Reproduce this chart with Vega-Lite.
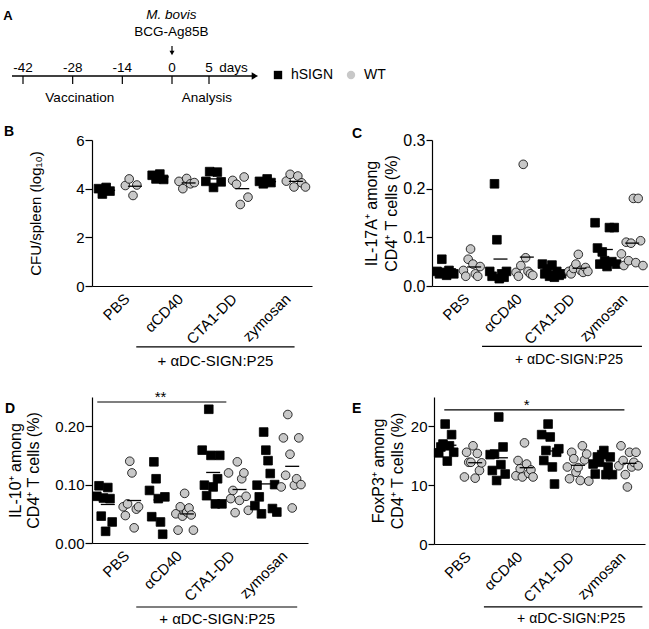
{
 "$schema": "https://vega.github.io/schema/vega-lite/v6.json",
 "padding": {"left": 3, "top": 7, "right": 0, "bottom": 0},
 "config": {
  "font": "Liberation Sans",
  "view": {"stroke": null},
  "axis": {"grid": false, "domainColor": "black", "domainWidth": 1.2, "tickColor": "black", "tickWidth": 1.2, "labelColor": "black", "titleColor": "black", "titleFontWeight": "normal", "labelFont": "Liberation Sans", "titleFont": "Liberation Sans"},
  "legend": {"symbolStrokeColor": "black", "symbolStrokeWidth": 1},
  "text": {"color": "black", "font": "Liberation Sans"}
 },
 "datasets": {
  "pts": [
   {"p":"B","c":"PBS","g":"hSIGN","v":4.0},{"p":"B","c":"PBS","g":"hSIGN","v":3.78},{"p":"B","c":"PBS","g":"hSIGN","v":4.05},{"p":"B","c":"PBS","g":"hSIGN","v":3.9},
   {"p":"B","c":"PBS","g":"WT","v":4.13},{"p":"B","c":"PBS","g":"WT","v":4.4},{"p":"B","c":"PBS","g":"WT","v":3.72},{"p":"B","c":"PBS","g":"WT","v":4.15},
   {"p":"B","c":"αCD40","g":"hSIGN","v":4.55},{"p":"B","c":"αCD40","g":"hSIGN","v":4.4},{"p":"B","c":"αCD40","g":"hSIGN","v":4.6},{"p":"B","c":"αCD40","g":"hSIGN","v":4.38},
   {"p":"B","c":"αCD40","g":"WT","v":4.3},{"p":"B","c":"αCD40","g":"WT","v":4.0},{"p":"B","c":"αCD40","g":"WT","v":4.42},{"p":"B","c":"αCD40","g":"WT","v":4.2},{"p":"B","c":"αCD40","g":"WT","v":4.25},
   {"p":"B","c":"CTA1-DD","g":"hSIGN","v":4.3},{"p":"B","c":"CTA1-DD","g":"hSIGN","v":4.7},{"p":"B","c":"CTA1-DD","g":"hSIGN","v":4.05},{"p":"B","c":"CTA1-DD","g":"hSIGN","v":4.68},{"p":"B","c":"CTA1-DD","g":"hSIGN","v":4.28},
   {"p":"B","c":"CTA1-DD","g":"WT","v":4.34},{"p":"B","c":"CTA1-DD","g":"WT","v":4.18},{"p":"B","c":"CTA1-DD","g":"WT","v":3.35},{"p":"B","c":"CTA1-DD","g":"WT","v":4.48},{"p":"B","c":"CTA1-DD","g":"WT","v":3.65},
   {"p":"B","c":"zymosan","g":"hSIGN","v":4.3},{"p":"B","c":"zymosan","g":"hSIGN","v":4.2},{"p":"B","c":"zymosan","g":"hSIGN","v":4.4},{"p":"B","c":"zymosan","g":"hSIGN","v":4.25},
   {"p":"B","c":"zymosan","g":"WT","v":4.31},{"p":"B","c":"zymosan","g":"WT","v":4.59},{"p":"B","c":"zymosan","g":"WT","v":4.07},{"p":"B","c":"zymosan","g":"WT","v":4.52},{"p":"B","c":"zymosan","g":"WT","v":4.24},{"p":"B","c":"zymosan","g":"WT","v":4.07},

   {"p":"C","c":"PBS","g":"hSIGN","v":0.03},{"p":"C","c":"PBS","g":"hSIGN","v":0.025},{"p":"C","c":"PBS","g":"hSIGN","v":0.055},{"p":"C","c":"PBS","g":"hSIGN","v":0.028},{"p":"C","c":"PBS","g":"hSIGN","v":0.022},{"p":"C","c":"PBS","g":"hSIGN","v":0.032},{"p":"C","c":"PBS","g":"hSIGN","v":0.027},{"p":"C","c":"PBS","g":"hSIGN","v":0.025},
   {"p":"C","c":"PBS","g":"WT","v":0.032},{"p":"C","c":"PBS","g":"WT","v":0.02},{"p":"C","c":"PBS","g":"WT","v":0.055},{"p":"C","c":"PBS","g":"WT","v":0.076},{"p":"C","c":"PBS","g":"WT","v":0.045},{"p":"C","c":"PBS","g":"WT","v":0.025},{"p":"C","c":"PBS","g":"WT","v":0.02},{"p":"C","c":"PBS","g":"WT","v":0.04},
   {"p":"C","c":"αCD40","g":"hSIGN","v":0.03},{"p":"C","c":"αCD40","g":"hSIGN","v":0.02},{"p":"C","c":"αCD40","g":"hSIGN","v":0.21},{"p":"C","c":"αCD40","g":"hSIGN","v":0.095},{"p":"C","c":"αCD40","g":"hSIGN","v":0.015},{"p":"C","c":"αCD40","g":"hSIGN","v":0.025},{"p":"C","c":"αCD40","g":"hSIGN","v":0.018},{"p":"C","c":"αCD40","g":"hSIGN","v":0.03},
   {"p":"C","c":"αCD40","g":"WT","v":0.028},{"p":"C","c":"αCD40","g":"WT","v":0.02},{"p":"C","c":"αCD40","g":"WT","v":0.042},{"p":"C","c":"αCD40","g":"WT","v":0.25},{"p":"C","c":"αCD40","g":"WT","v":0.058},{"p":"C","c":"αCD40","g":"WT","v":0.03},{"p":"C","c":"αCD40","g":"WT","v":0.025},{"p":"C","c":"αCD40","g":"WT","v":0.022},
   {"p":"C","c":"CTA1-DD","g":"hSIGN","v":0.045},{"p":"C","c":"CTA1-DD","g":"hSIGN","v":0.025},{"p":"C","c":"CTA1-DD","g":"hSIGN","v":0.035},{"p":"C","c":"CTA1-DD","g":"hSIGN","v":0.02},{"p":"C","c":"CTA1-DD","g":"hSIGN","v":0.043},{"p":"C","c":"CTA1-DD","g":"hSIGN","v":0.018},{"p":"C","c":"CTA1-DD","g":"hSIGN","v":0.03},{"p":"C","c":"CTA1-DD","g":"hSIGN","v":0.022},{"p":"C","c":"CTA1-DD","g":"hSIGN","v":0.025},
   {"p":"C","c":"CTA1-DD","g":"WT","v":0.03},{"p":"C","c":"CTA1-DD","g":"WT","v":0.025},{"p":"C","c":"CTA1-DD","g":"WT","v":0.036},{"p":"C","c":"CTA1-DD","g":"WT","v":0.045},{"p":"C","c":"CTA1-DD","g":"WT","v":0.065},{"p":"C","c":"CTA1-DD","g":"WT","v":0.032},{"p":"C","c":"CTA1-DD","g":"WT","v":0.028},{"p":"C","c":"CTA1-DD","g":"WT","v":0.038},{"p":"C","c":"CTA1-DD","g":"WT","v":0.03},
   {"p":"C","c":"zymosan","g":"hSIGN","v":0.13},{"p":"C","c":"zymosan","g":"hSIGN","v":0.078},{"p":"C","c":"zymosan","g":"hSIGN","v":0.045},{"p":"C","c":"zymosan","g":"hSIGN","v":0.07},{"p":"C","c":"zymosan","g":"hSIGN","v":0.052},{"p":"C","c":"zymosan","g":"hSIGN","v":0.04},{"p":"C","c":"zymosan","g":"hSIGN","v":0.12},{"p":"C","c":"zymosan","g":"hSIGN","v":0.05},{"p":"C","c":"zymosan","g":"hSIGN","v":0.12},{"p":"C","c":"zymosan","g":"hSIGN","v":0.045},
   {"p":"C","c":"zymosan","g":"WT","v":0.066},{"p":"C","c":"zymosan","g":"WT","v":0.042},{"p":"C","c":"zymosan","g":"WT","v":0.09},{"p":"C","c":"zymosan","g":"WT","v":0.052},{"p":"C","c":"zymosan","g":"WT","v":0.088},{"p":"C","c":"zymosan","g":"WT","v":0.18},{"p":"C","c":"zymosan","g":"WT","v":0.048},{"p":"C","c":"zymosan","g":"WT","v":0.18},{"p":"C","c":"zymosan","g":"WT","v":0.093},{"p":"C","c":"zymosan","g":"WT","v":0.042},

   {"p":"D","c":"PBS","g":"hSIGN","v":0.08},{"p":"D","c":"PBS","g":"hSIGN","v":0.098},{"p":"D","c":"PBS","g":"hSIGN","v":0.046},{"p":"D","c":"PBS","g":"hSIGN","v":0.077},{"p":"D","c":"PBS","g":"hSIGN","v":0.02},{"p":"D","c":"PBS","g":"hSIGN","v":0.095},{"p":"D","c":"PBS","g":"hSIGN","v":0.076},{"p":"D","c":"PBS","g":"hSIGN","v":0.036},
   {"p":"D","c":"PBS","g":"WT","v":0.062},{"p":"D","c":"PBS","g":"WT","v":0.047},{"p":"D","c":"PBS","g":"WT","v":0.067},{"p":"D","c":"PBS","g":"WT","v":0.14},{"p":"D","c":"PBS","g":"WT","v":0.12},{"p":"D","c":"PBS","g":"WT","v":0.026},{"p":"D","c":"PBS","g":"WT","v":0.058},{"p":"D","c":"PBS","g":"WT","v":0.062},
   {"p":"D","c":"αCD40","g":"hSIGN","v":0.09},{"p":"D","c":"αCD40","g":"hSIGN","v":0.045},{"p":"D","c":"αCD40","g":"hSIGN","v":0.139},{"p":"D","c":"αCD40","g":"hSIGN","v":0.11},{"p":"D","c":"αCD40","g":"hSIGN","v":0.076},{"p":"D","c":"αCD40","g":"hSIGN","v":0.036},{"p":"D","c":"αCD40","g":"hSIGN","v":0.015},{"p":"D","c":"αCD40","g":"hSIGN","v":0.079},
   {"p":"D","c":"αCD40","g":"WT","v":0.05},{"p":"D","c":"αCD40","g":"WT","v":0.022},{"p":"D","c":"αCD40","g":"WT","v":0.062},{"p":"D","c":"αCD40","g":"WT","v":0.046},{"p":"D","c":"αCD40","g":"WT","v":0.085},{"p":"D","c":"αCD40","g":"WT","v":0.053},{"p":"D","c":"αCD40","g":"WT","v":0.06},{"p":"D","c":"αCD40","g":"WT","v":0.048},{"p":"D","c":"αCD40","g":"WT","v":0.022},
   {"p":"D","c":"CTA1-DD","g":"hSIGN","v":0.159},{"p":"D","c":"CTA1-DD","g":"hSIGN","v":0.099},{"p":"D","c":"CTA1-DD","g":"hSIGN","v":0.081},{"p":"D","c":"CTA1-DD","g":"hSIGN","v":0.229},{"p":"D","c":"CTA1-DD","g":"hSIGN","v":0.15},{"p":"D","c":"CTA1-DD","g":"hSIGN","v":0.096},{"p":"D","c":"CTA1-DD","g":"hSIGN","v":0.067},{"p":"D","c":"CTA1-DD","g":"hSIGN","v":0.11},{"p":"D","c":"CTA1-DD","g":"hSIGN","v":0.15},{"p":"D","c":"CTA1-DD","g":"hSIGN","v":0.067},
   {"p":"D","c":"CTA1-DD","g":"WT","v":0.12},{"p":"D","c":"CTA1-DD","g":"WT","v":0.076},{"p":"D","c":"CTA1-DD","g":"WT","v":0.09},{"p":"D","c":"CTA1-DD","g":"WT","v":0.052},{"p":"D","c":"CTA1-DD","g":"WT","v":0.139},{"p":"D","c":"CTA1-DD","g":"WT","v":0.073},{"p":"D","c":"CTA1-DD","g":"WT","v":0.11},{"p":"D","c":"CTA1-DD","g":"WT","v":0.12},{"p":"D","c":"CTA1-DD","g":"WT","v":0.08},{"p":"D","c":"CTA1-DD","g":"WT","v":0.056},
   {"p":"D","c":"zymosan","g":"hSIGN","v":0.064},{"p":"D","c":"zymosan","g":"hSIGN","v":0.099},{"p":"D","c":"zymosan","g":"hSIGN","v":0.079},{"p":"D","c":"zymosan","g":"hSIGN","v":0.05},{"p":"D","c":"zymosan","g":"hSIGN","v":0.19},{"p":"D","c":"zymosan","g":"hSIGN","v":0.159},{"p":"D","c":"zymosan","g":"hSIGN","v":0.141},{"p":"D","c":"zymosan","g":"hSIGN","v":0.119},{"p":"D","c":"zymosan","g":"hSIGN","v":0.059},{"p":"D","c":"zymosan","g":"hSIGN","v":0.1},{"p":"D","c":"zymosan","g":"hSIGN","v":0.053},
   {"p":"D","c":"zymosan","g":"WT","v":0.096},{"p":"D","c":"zymosan","g":"WT","v":0.18},{"p":"D","c":"zymosan","g":"WT","v":0.116},{"p":"D","c":"zymosan","g":"WT","v":0.22},{"p":"D","c":"zymosan","g":"WT","v":0.152},{"p":"D","c":"zymosan","g":"WT","v":0.06},{"p":"D","c":"zymosan","g":"WT","v":0.099},{"p":"D","c":"zymosan","g":"WT","v":0.11},{"p":"D","c":"zymosan","g":"WT","v":0.18},{"p":"D","c":"zymosan","g":"WT","v":0.1},

   {"p":"E","c":"PBS","g":"hSIGN","v":15.5},{"p":"E","c":"PBS","g":"hSIGN","v":16.5},{"p":"E","c":"PBS","g":"hSIGN","v":17.0},{"p":"E","c":"PBS","g":"hSIGN","v":20.4},{"p":"E","c":"PBS","g":"hSIGN","v":14.1},{"p":"E","c":"PBS","g":"hSIGN","v":16.7},{"p":"E","c":"PBS","g":"hSIGN","v":18.6},{"p":"E","c":"PBS","g":"hSIGN","v":15.6},
   {"p":"E","c":"PBS","g":"WT","v":11.4},{"p":"E","c":"PBS","g":"WT","v":15.6},{"p":"E","c":"PBS","g":"WT","v":13.9},{"p":"E","c":"PBS","g":"WT","v":13.9},{"p":"E","c":"PBS","g":"WT","v":16.7},{"p":"E","c":"PBS","g":"WT","v":11.2},{"p":"E","c":"PBS","g":"WT","v":15.4},{"p":"E","c":"PBS","g":"WT","v":12.5},{"p":"E","c":"PBS","g":"WT","v":13.8},
   {"p":"E","c":"αCD40","g":"hSIGN","v":15.2},{"p":"E","c":"αCD40","g":"hSIGN","v":12.5},{"p":"E","c":"αCD40","g":"hSIGN","v":15.3},{"p":"E","c":"αCD40","g":"hSIGN","v":10.8},{"p":"E","c":"αCD40","g":"hSIGN","v":21.6},{"p":"E","c":"αCD40","g":"hSIGN","v":13.5},{"p":"E","c":"αCD40","g":"hSIGN","v":16.5},{"p":"E","c":"αCD40","g":"hSIGN","v":11.9},
   {"p":"E","c":"αCD40","g":"WT","v":11.6},{"p":"E","c":"αCD40","g":"WT","v":14.2},{"p":"E","c":"αCD40","g":"WT","v":12.8},{"p":"E","c":"αCD40","g":"WT","v":11.4},{"p":"E","c":"αCD40","g":"WT","v":17.2},{"p":"E","c":"αCD40","g":"WT","v":13.6},{"p":"E","c":"αCD40","g":"WT","v":12.0},{"p":"E","c":"αCD40","g":"WT","v":12.6},{"p":"E","c":"αCD40","g":"WT","v":11.4},
   {"p":"E","c":"CTA1-DD","g":"hSIGN","v":18.6},{"p":"E","c":"CTA1-DD","g":"hSIGN","v":14.2},{"p":"E","c":"CTA1-DD","g":"hSIGN","v":15.9},{"p":"E","c":"CTA1-DD","g":"hSIGN","v":20.4},{"p":"E","c":"CTA1-DD","g":"hSIGN","v":18.2},{"p":"E","c":"CTA1-DD","g":"hSIGN","v":13.1},{"p":"E","c":"CTA1-DD","g":"hSIGN","v":10.2},{"p":"E","c":"CTA1-DD","g":"hSIGN","v":15.6},{"p":"E","c":"CTA1-DD","g":"hSIGN","v":16.2},
   {"p":"E","c":"CTA1-DD","g":"WT","v":13.1},{"p":"E","c":"CTA1-DD","g":"WT","v":11.1},{"p":"E","c":"CTA1-DD","g":"WT","v":15.6},{"p":"E","c":"CTA1-DD","g":"WT","v":14.5},{"p":"E","c":"CTA1-DD","g":"WT","v":12.2},{"p":"E","c":"CTA1-DD","g":"WT","v":13.0},{"p":"E","c":"CTA1-DD","g":"WT","v":10.8},{"p":"E","c":"CTA1-DD","g":"WT","v":16.7},{"p":"E","c":"CTA1-DD","g":"WT","v":14.3},{"p":"E","c":"CTA1-DD","g":"WT","v":15.3},{"p":"E","c":"CTA1-DD","g":"WT","v":10.7},
   {"p":"E","c":"zymosan","g":"hSIGN","v":13.6},{"p":"E","c":"zymosan","g":"hSIGN","v":11.9},{"p":"E","c":"zymosan","g":"hSIGN","v":14.8},{"p":"E","c":"zymosan","g":"hSIGN","v":13.9},{"p":"E","c":"zymosan","g":"hSIGN","v":15.2},{"p":"E","c":"zymosan","g":"hSIGN","v":15.9},{"p":"E","c":"zymosan","g":"hSIGN","v":11.8},{"p":"E","c":"zymosan","g":"hSIGN","v":13.1},{"p":"E","c":"zymosan","g":"hSIGN","v":14.8},{"p":"E","c":"zymosan","g":"hSIGN","v":11.8},
   {"p":"E","c":"zymosan","g":"WT","v":13.3},{"p":"E","c":"zymosan","g":"WT","v":16.7},{"p":"E","c":"zymosan","g":"WT","v":14.2},{"p":"E","c":"zymosan","g":"WT","v":11.8},{"p":"E","c":"zymosan","g":"WT","v":9.7},{"p":"E","c":"zymosan","g":"WT","v":15.6},{"p":"E","c":"zymosan","g":"WT","v":13.1},{"p":"E","c":"zymosan","g":"WT","v":13.9},{"p":"E","c":"zymosan","g":"WT","v":15.6},{"p":"E","c":"zymosan","g":"WT","v":13.3}
  ]
 },
 "spacing": 20,
 "resolve": {"scale": {"xOffset": "independent"}},
 "vconcat": [
  {
   "width": 300, "height": 94,
   "data": {"values": [{"day": -42, "lab": "-42"}, {"day": -28, "lab": "-28"}, {"day": -14, "lab": "-14"}, {"day": 0, "lab": "0"}, {"day": 5, "lab": "5"}]},
   "layer": [
    {"data": {"values": [{}]}, "mark": {"type": "rule", "color": "black", "strokeWidth": 1.3},
     "encoding": {"x": {"datum": -45.1, "type": "quantitative", "scale": {"type": "linear", "domain": [-42, 0, 5], "range": [-69, 80, 117], "zero": false, "nice": false}, "axis": null},
                  "x2": {"datum": 11},
                  "y": {"datum": 33, "type": "quantitative", "scale": {"domain": [6, 100], "nice": false, "zero": false}, "axis": null}}},
    {"data": {"values": [{"t": "A"}]}, "mark": {"type": "text", "fontSize": 13, "fontWeight": "bold", "align": "left", "baseline": "middle"},
     "encoding": {"x": {"datum": -47.6, "type": "quantitative"}, "y": {"datum": 93, "type": "quantitative"}, "text": {"field": "t"}}},
    {"data": {"values": [{}]}, "mark": {"type": "point", "shape": "triangle-right", "filled": true, "color": "black", "size": 55, "opacity": 1},
     "encoding": {"x": {"datum": 11.2, "type": "quantitative"}, "y": {"datum": 33, "type": "quantitative"}}},
    {"mark": {"type": "rule", "color": "black", "strokeWidth": 1.2},
     "encoding": {"x": {"field": "day", "type": "quantitative"}, "y": {"datum": 33, "type": "quantitative"}, "y2": {"datum": 25}}},
    {"mark": {"type": "text", "fontSize": 13.5, "baseline": "middle"},
     "encoding": {"x": {"field": "day", "type": "quantitative"}, "y": {"datum": 41, "type": "quantitative"}, "text": {"field": "lab"}}},
    {"data": {"values": [{}]}, "mark": {"type": "text", "fontSize": 13.5, "baseline": "middle"},
     "encoding": {"x": {"datum": 8.3, "type": "quantitative"}, "y": {"datum": 41, "type": "quantitative"}, "text": {"value": "days"}}},
    {"data": {"values": [{}]}, "mark": {"type": "text", "fontSize": 13.5, "baseline": "middle"},
     "encoding": {"x": {"datum": -26, "type": "quantitative"}, "y": {"datum": 11, "type": "quantitative"}, "text": {"value": "Vaccination"}}},
    {"data": {"values": [{}]}, "mark": {"type": "text", "fontSize": 13.5, "baseline": "middle"},
     "encoding": {"x": {"datum": 4.7, "type": "quantitative"}, "y": {"datum": 11, "type": "quantitative"}, "text": {"value": "Analysis"}}},
    {"data": {"values": [{}]}, "mark": {"type": "text", "fontSize": 13.5, "fontStyle": "italic", "baseline": "middle"},
     "encoding": {"x": {"datum": -0.2, "type": "quantitative"}, "y": {"datum": 94, "type": "quantitative"}, "text": {"value": "M. bovis"}}},
    {"data": {"values": [{}]}, "mark": {"type": "text", "fontSize": 13.5, "baseline": "middle"},
     "encoding": {"x": {"datum": -0.2, "type": "quantitative"}, "y": {"datum": 77, "type": "quantitative"}, "text": {"value": "BCG-Ag85B"}}},
    {"data": {"values": [{}]}, "mark": {"type": "rule", "color": "black", "strokeWidth": 1.2},
     "encoding": {"x": {"datum": 0, "type": "quantitative"}, "y": {"datum": 63, "type": "quantitative"}, "y2": {"datum": 56}}},
    {"data": {"values": [{}]}, "mark": {"type": "point", "shape": "triangle-down", "filled": true, "color": "black", "size": 25, "opacity": 1},
     "encoding": {"x": {"datum": 0, "type": "quantitative"}, "y": {"datum": 56, "type": "quantitative"}}}
   ]
  },
  {
   "spacing": 39,
   "resolve": {"scale": {"xOffset": "independent"}},
   "hconcat": [
    {
     "width": 220, "height": 146,
     "layer": [
      {"data": {"name": "pts"},
       "transform": [{"filter": "datum.p === 'B'"}, {"calculate": "datum.c + '|' + datum.g", "as": "grp"}, {"window": [{"op": "row_number", "as": "m"}], "groupby": ["c", "g"]}],
       "mark": {"type": "point", "filled": true, "size": 75, "stroke": "black", "strokeWidth": 0.8, "opacity": 1},
       "encoding": {
        "x": {"field": "grp", "type": "nominal", "scale": {"domain": ["PBS|hSIGN","PBS|WT","αCD40|hSIGN","αCD40|WT","CTA1-DD|hSIGN","CTA1-DD|WT","zymosan|hSIGN","zymosan|WT"], "paddingInner": 0, "paddingOuter": 0.1},
              "axis": {"title": null, "values": ["PBS|hSIGN","αCD40|hSIGN","CTA1-DD|hSIGN","zymosan|hSIGN"], "labelExpr": "split(datum.value, '|')[0]", "labelAngle": -45, "labelAlign": "right", "labelBaseline": "top", "labelOffset": 14, "ticks": false, "labelFontSize": 15, "labelPadding": 5}},
        "xOffset": {"field": "m", "type": "ordinal", "scale": {"paddingOuter": 2.5}},
        "y": {"field": "v", "type": "quantitative", "scale": {"domain": [0, 6], "nice": false}, "axis": {"values": [0, 2, 4, 6], "title": "CFU/spleen (log₁₀)", "titleFontSize": 15, "labelFontSize": 15, "tickSize": 7, "labelPadding": 1, "titlePadding": 32}},
        "fill": {"field": "g", "type": "nominal", "scale": {"domain": ["hSIGN", "WT"], "range": ["black", "#c8c8c8"]}, "legend": {"title": null, "orient": "none", "legendX": 179, "legendY": 59, "direction": "horizontal", "labelFontSize": 14, "labelColor": "black", "symbolSize": 70, "symbolStrokeColor": "black", "symbolStrokeWidth": 1, "labelOffset": 6, "columnPadding": 10, "padding": 0, "encode": {"symbols": {"update": {"stroke": {"value": "black"}, "strokeWidth": {"value": 1}}}}}},
        "shape": {"field": "g", "type": "nominal", "scale": {"domain": ["hSIGN", "WT"], "range": ["square", "circle"]}, "legend": {"title": null, "orient": "none", "legendX": 179, "legendY": 59, "direction": "horizontal", "labelFontSize": 14, "labelColor": "black", "symbolSize": 70, "symbolStrokeColor": "black", "symbolStrokeWidth": 1, "labelOffset": 6, "columnPadding": 10, "padding": 0, "encode": {"symbols": {"update": {"stroke": {"value": "black"}, "strokeWidth": {"value": 1}}}}}}
       }},
      {"data": {"name": "pts"},
       "transform": [{"filter": "datum.p === 'B'"}, {"calculate": "datum.c + '|' + datum.g", "as": "grp"}],
       "mark": {"type": "tick", "color": "black", "thickness": 1.3, "size": 14},
       "encoding": {"x": {"field": "grp", "type": "nominal"}, "y": {"field": "v", "aggregate": "mean", "type": "quantitative"}}},
      {"data": {"values": [{"t": "B"}]},
       "mark": {"type": "text", "fontSize": 14, "fontWeight": "bold", "align": "left", "baseline": "middle"},
       "encoding": {"x": {"datum": "PBS|hSIGN", "type": "nominal", "bandPosition": -3.38}, "y": {"datum": 6.31, "type": "quantitative"}, "text": {"field": "t"}}},
      {"data": {"values": [{"t": "+ αDC-SIGN:P25"}]},
       "mark": {"type": "rule", "color": "black", "strokeWidth": 1.2},
       "encoding": {"x": {"datum": "PBS|WT", "type": "nominal", "bandPosition": 0.55}, "x2": {"datum": "zymosan|WT", "bandPosition": 0.45}, "y": {"datum": -2.5, "type": "quantitative"}}},
      {"data": {"values": [{"t": "+ αDC-SIGN:P25"}]},
       "mark": {"type": "text", "fontSize": 15, "baseline": "middle"},
       "encoding": {"x": {"datum": "CTA1-DD|hSIGN", "type": "nominal", "bandPosition": 0.5}, "y": {"datum": -3.1, "type": "quantitative"}, "text": {"field": "t"}}}
     ]
    },
    {
     "width": 216, "height": 146,
     "layer": [
      {"data": {"name": "pts"},
       "transform": [{"filter": "datum.p === 'C'"}, {"calculate": "datum.c + '|' + datum.g", "as": "grp"}, {"window": [{"op": "row_number", "as": "m"}], "groupby": ["c", "g"]}],
       "mark": {"type": "point", "filled": true, "size": 75, "stroke": "black", "strokeWidth": 0.8, "opacity": 1},
       "encoding": {
        "x": {"field": "grp", "type": "nominal", "scale": {"domain": ["PBS|hSIGN","PBS|WT","αCD40|hSIGN","αCD40|WT","CTA1-DD|hSIGN","CTA1-DD|WT","zymosan|hSIGN","zymosan|WT"], "paddingInner": 0, "paddingOuter": 0.1},
              "axis": {"title": null, "values": ["PBS|hSIGN","αCD40|hSIGN","CTA1-DD|hSIGN","zymosan|hSIGN"], "labelExpr": "split(datum.value, '|')[0]", "labelAngle": -45, "labelAlign": "right", "labelBaseline": "top", "labelOffset": 14, "ticks": false, "labelFontSize": 15, "labelPadding": 5}},
        "xOffset": {"field": "m", "type": "ordinal", "scale": {"paddingOuter": 3}},
        "y": {"field": "v", "type": "quantitative", "scale": {"domain": [0, 0.3], "nice": false}, "axis": {"values": [0, 0.1, 0.2, 0.3], "format": ".1f", "title": ["IL-17A⁺ among", "CD4⁺ T cells (%)"], "titleFontSize": 16, "titleLineHeight": 20, "labelFontSize": 16, "tickSize": 6, "labelPadding": 1, "titlePadding": 3}},
        "fill": {"field": "g", "type": "nominal"},
        "shape": {"field": "g", "type": "nominal"}
       }},
      {"data": {"name": "pts"},
       "transform": [{"filter": "datum.p === 'C'"}, {"calculate": "datum.c + '|' + datum.g", "as": "grp"}],
       "mark": {"type": "tick", "color": "black", "thickness": 1.3, "size": 14},
       "encoding": {"x": {"field": "grp", "type": "nominal"}, "y": {"field": "v", "aggregate": "mean", "type": "quantitative"}}},
      {"data": {"values": [{"t": "C"}]},
       "mark": {"type": "text", "fontSize": 14, "fontWeight": "bold", "align": "left", "baseline": "middle"},
       "encoding": {"x": {"datum": "PBS|hSIGN", "type": "nominal", "bandPosition": -3.14}, "y": {"datum": 0.3133, "type": "quantitative"}, "text": {"field": "t"}}},
      {"data": {"values": [{"t": "+ αDC-SIGN:P25"}]},
       "mark": {"type": "rule", "color": "black", "strokeWidth": 1.2},
       "encoding": {"x": {"datum": "PBS|WT", "type": "nominal", "bandPosition": 0.8}, "x2": {"datum": "zymosan|WT", "bandPosition": 0.87}, "y": {"datum": -0.124, "type": "quantitative"}}},
      {"data": {"values": [{"t": "+ αDC-SIGN:P25"}]},
       "mark": {"type": "text", "fontSize": 14, "baseline": "middle"},
       "encoding": {"x": {"datum": "CTA1-DD|WT", "type": "nominal", "bandPosition": 0.1}, "y": {"datum": -0.153, "type": "quantitative"}, "text": {"field": "t"}}}
     ]
    }
   ]
  },
  {
   "spacing": 43,
   "resolve": {"scale": {"xOffset": "independent"}},
   "hconcat": [
    {
     "width": 216, "height": 146,
     "layer": [
      {"data": {"name": "pts"},
       "transform": [{"filter": "datum.p === 'D'"}, {"calculate": "datum.c + '|' + datum.g", "as": "grp"}, {"window": [{"op": "row_number", "as": "m"}], "groupby": ["c", "g"]}],
       "mark": {"type": "point", "filled": true, "size": 75, "stroke": "black", "strokeWidth": 0.8, "opacity": 1},
       "encoding": {
        "x": {"field": "grp", "type": "nominal", "scale": {"domain": ["PBS|hSIGN","PBS|WT","αCD40|hSIGN","αCD40|WT","CTA1-DD|hSIGN","CTA1-DD|WT","zymosan|hSIGN","zymosan|WT"], "paddingInner": 0, "paddingOuter": 0.1},
              "axis": {"title": null, "values": ["PBS|hSIGN","αCD40|hSIGN","CTA1-DD|hSIGN","zymosan|hSIGN"], "labelExpr": "split(datum.value, '|')[0]", "labelAngle": -45, "labelAlign": "right", "labelBaseline": "top", "labelOffset": 14, "ticks": false, "labelFontSize": 15, "labelPadding": 5}},
        "xOffset": {"field": "m", "type": "ordinal", "scale": {"paddingOuter": 3}},
        "y": {"field": "v", "type": "quantitative", "scale": {"domain": [0, 0.25], "nice": false}, "axis": {"values": [0, 0.05, 0.1, 0.15, 0.2, 0.25], "format": ".2f", "title": ["IL-10⁺ among", "CD4⁺ T cells (%)"], "titleFontSize": 16, "titleLineHeight": 18, "labelFontSize": 15, "tickSize": 7, "labelPadding": 1, "titlePadding": 13}},
        "fill": {"field": "g", "type": "nominal"},
        "shape": {"field": "g", "type": "nominal"}
       }},
      {"data": {"name": "pts"},
       "transform": [{"filter": "datum.p === 'D'"}, {"calculate": "datum.c + '|' + datum.g", "as": "grp"}],
       "mark": {"type": "tick", "color": "black", "thickness": 1.3, "size": 14},
       "encoding": {"x": {"field": "grp", "type": "nominal"}, "y": {"field": "v", "aggregate": "mean", "type": "quantitative"}}},
      {"data": {"values": [{"t": "D"}]},
       "mark": {"type": "text", "fontSize": 14, "fontWeight": "bold", "align": "left", "baseline": "middle"},
       "encoding": {"x": {"datum": "PBS|hSIGN", "type": "nominal", "bandPosition": -3.4}, "y": {"datum": 0.2303, "type": "quantitative"}, "text": {"field": "t"}}},
      {"data": {"values": [{"s": "**"}]},
       "mark": {"type": "rule", "color": "black", "strokeWidth": 1.2},
       "encoding": {"x": {"datum": "PBS|hSIGN", "type": "nominal", "bandPosition": 0.1}, "x2": {"datum": "CTA1-DD|hSIGN", "bandPosition": 1}, "y": {"datum": 0.2414, "type": "quantitative"}}},
      {"data": {"values": [{"s": "**"}]},
       "mark": {"type": "text", "fontSize": 15, "baseline": "alphabetic"},
       "encoding": {"x": {"datum": "αCD40|hSIGN", "type": "nominal", "bandPosition": 0.5}, "y": {"datum": 0.2414, "type": "quantitative"}, "text": {"field": "s"}}},
      {"data": {"values": [{"t": "+ αDC-SIGN:P25"}]},
       "mark": {"type": "rule", "color": "black", "strokeWidth": 1.2},
       "encoding": {"x": {"datum": "PBS|WT", "type": "nominal", "bandPosition": 0.58}, "x2": {"datum": "zymosan|WT", "bandPosition": 0.69}, "y": {"datum": -0.1096, "type": "quantitative"}}},
      {"data": {"values": [{"t": "+ αDC-SIGN:P25"}]},
       "mark": {"type": "text", "fontSize": 15, "baseline": "middle"},
       "encoding": {"x": {"datum": "CTA1-DD|hSIGN", "type": "nominal", "bandPosition": 0.65}, "y": {"datum": -0.13, "type": "quantitative"}, "text": {"field": "t"}}}
     ]
    },
    {
     "width": 211, "height": 147,
     "layer": [
      {"data": {"name": "pts"},
       "transform": [{"filter": "datum.p === 'E'"}, {"calculate": "datum.c + '|' + datum.g", "as": "grp"}, {"window": [{"op": "row_number", "as": "m"}], "groupby": ["c", "g"]}],
       "mark": {"type": "point", "filled": true, "size": 75, "stroke": "black", "strokeWidth": 0.8, "opacity": 1},
       "encoding": {
        "x": {"field": "grp", "type": "nominal", "scale": {"domain": ["PBS|hSIGN","PBS|WT","αCD40|hSIGN","αCD40|WT","CTA1-DD|hSIGN","CTA1-DD|WT","zymosan|hSIGN","zymosan|WT"], "paddingInner": 0, "paddingOuter": 0.1},
              "axis": {"title": null, "values": ["PBS|hSIGN","αCD40|hSIGN","CTA1-DD|hSIGN","zymosan|hSIGN"], "labelExpr": "split(datum.value, '|')[0]", "labelAngle": -45, "labelAlign": "right", "labelBaseline": "top", "labelOffset": 14, "ticks": false, "labelFontSize": 15, "labelPadding": 5}},
        "xOffset": {"field": "m", "type": "ordinal", "scale": {"paddingOuter": 3}},
        "y": {"field": "v", "type": "quantitative", "scale": {"domain": [0, 25], "nice": false}, "axis": {"values": [0, 5, 10, 15, 20, 25], "title": ["FoxP3⁺ among", "CD4⁺ T cells (%)"], "titleFontSize": 16, "titleLineHeight": 19, "labelFontSize": 15, "tickSize": 6, "labelPadding": 1, "titlePadding": 5}},
        "fill": {"field": "g", "type": "nominal"},
        "shape": {"field": "g", "type": "nominal"}
       }},
      {"data": {"name": "pts"},
       "transform": [{"filter": "datum.p === 'E'"}, {"calculate": "datum.c + '|' + datum.g", "as": "grp"}],
       "mark": {"type": "tick", "color": "black", "thickness": 1.3, "size": 14},
       "encoding": {"x": {"field": "grp", "type": "nominal"}, "y": {"field": "v", "aggregate": "mean", "type": "quantitative"}}},
      {"data": {"values": [{"t": "E"}]},
       "mark": {"type": "text", "fontSize": 14, "fontWeight": "bold", "align": "left", "baseline": "middle"},
       "encoding": {"x": {"datum": "PBS|hSIGN", "type": "nominal", "bandPosition": -3.29}, "y": {"datum": 23.04, "type": "quantitative"}, "text": {"field": "t"}}},
      {"data": {"values": [{"s": "*"}]},
       "mark": {"type": "rule", "color": "black", "strokeWidth": 1.2},
       "encoding": {"x": {"datum": "PBS|hSIGN", "type": "nominal", "bandPosition": 0.3}, "x2": {"datum": "zymosan|WT", "bandPosition": 0.3}, "y": {"datum": 22.8, "type": "quantitative"}}},
      {"data": {"values": [{"s": "*"}]},
       "mark": {"type": "text", "fontSize": 15, "baseline": "alphabetic"},
       "encoding": {"x": {"datum": "αCD40|WT", "type": "nominal", "bandPosition": 0.5}, "y": {"datum": 22.8, "type": "quantitative"}, "text": {"field": "s"}}},
      {"data": {"values": [{"t": "+ αDC-SIGN:P25"}]},
       "mark": {"type": "rule", "color": "black", "strokeWidth": 1.2},
       "encoding": {"x": {"datum": "PBS|WT", "type": "nominal", "bandPosition": 0.84}, "x2": {"datum": "zymosan|WT", "bandPosition": 1}, "y": {"datum": -10.7, "type": "quantitative"}}},
      {"data": {"values": [{"t": "+ αDC-SIGN:P25"}]},
       "mark": {"type": "text", "fontSize": 14, "baseline": "middle"},
       "encoding": {"x": {"datum": "CTA1-DD|WT", "type": "nominal", "bandPosition": 0.23}, "y": {"datum": -12.8, "type": "quantitative"}, "text": {"field": "t"}}}
     ]
    }
   ]
  }
 ]
}
